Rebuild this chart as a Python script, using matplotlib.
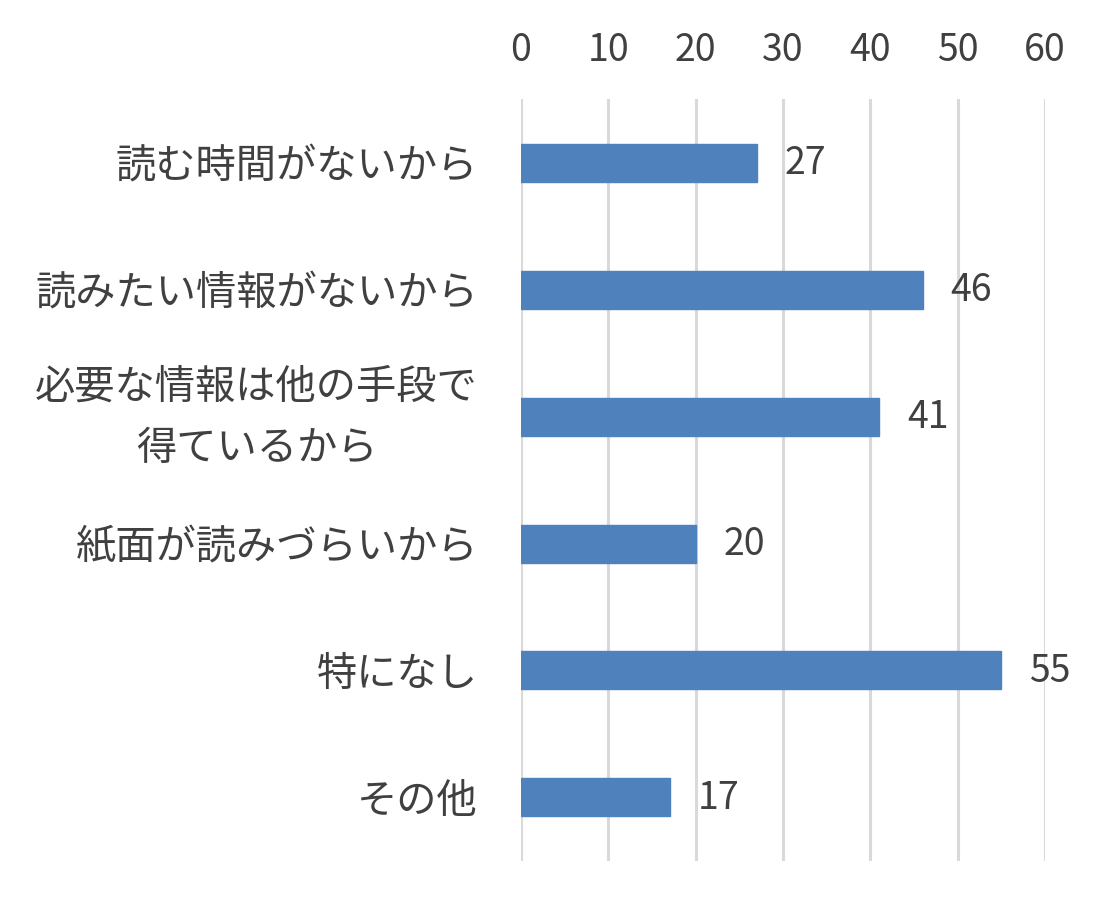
import matplotlib.pyplot as plt
import numpy as np

plt.rcParams['font.family'] = ['Noto Sans CJK JP', 'DejaVu Sans']

categories = ['読む時間がないから', '読みたい情報がないから', '必要な情報は他の手段で\n得ているから',
              '紙面が読みづらいから', '特になし', 'その他']
values = [27, 46, 41, 20, 55, 17]
ticks = [0, 10, 20, 30, 40, 50, 60]

text_color = '#404040'

fig = plt.figure(figsize=(11.19, 9.12), dpi=100)
ax = fig.add_axes([0.4656, 0.055, 0.4684, 0.835])

y = np.arange(len(categories))
ax.barh(y, values, height=0.3, color='#4F81BD', edgecolor='#4F81BD', zorder=3)

ax.set_xlim(0, 60)
ax.set_ylim(len(categories) - 0.5, -0.5)
ax.set_xticks(ticks)
ax.set_yticks(y)
ax.set_yticklabels([])
ax.xaxis.tick_top()
ax.tick_params(axis='x', length=0, pad=22, labelsize=27, labelcolor=text_color)
ax.tick_params(axis='y', length=0)

# category labels as plain text, right aligned, two-line one centred inside
for yi, cat in zip(y, categories):
    dy = 0 if '\n' in cat else -2
    ax.annotate(cat, (0, yi), xycoords=('axes fraction', 'data'),
                xytext=(-31, dy), textcoords='offset points',
                ha='right', va='center', multialignment='center',
                linespacing=1.65, fontsize=29, color=text_color)

ax.grid(axis='x', color='#D9D9D9', linewidth=2.2, zorder=0)
for s in ax.spines.values():
    s.set_visible(False)

for yi, v in zip(y, values):
    ax.annotate(str(v), (v, yi), xytext=(20, 0), textcoords='offset points',
                va='center', ha='left', fontsize=27, color=text_color)

fig.savefig('out.png', dpi=100)
